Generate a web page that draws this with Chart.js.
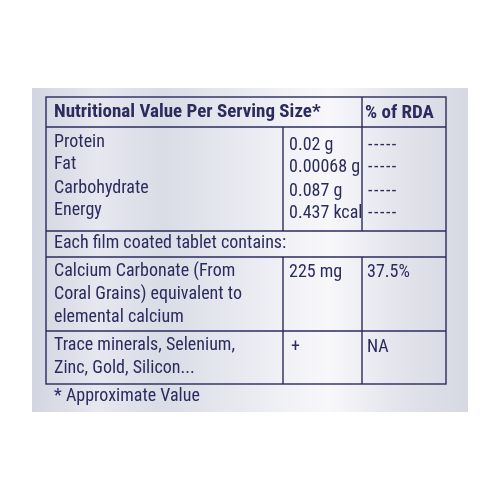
<!DOCTYPE html>
<html><head><meta charset="utf-8">
<script src="https://cdn.jsdelivr.net/npm/chart.js@4"></script>
<style>html,body{margin:0;padding:0;background:#fff}</style>
</head><body>
<canvas id="c" width="500" height="500"></canvas>
<script>
const headers = ["Nutritional Value Per Serving Size*", "% of RDA"];
const nutrients = ["Protein", "Fat", "Carbohydrate", "Energy"];
const amounts = ["0.02 g", "0.00068 g", "0.087 g", "0.437 kcal"];
const rda = ["-----", "-----", "-----", "-----"];
const sectionLabel = "Each film coated tablet contains:";
const calciumLines = ["Calcium Carbonate (From", "Coral Grains) equivalent to", "elemental calcium"];
const calciumAmount = "225 mg";
const calciumRda = "37.5%";
const traceLines = ["Trace minerals, Selenium,", "Zinc, Gold, Silicon..."];
const traceAmount = "+";
const traceRda = "NA";
const footnote = "* Approximate Value";

const INK = "#2b2b5e";
const FONT = '"Liberation Sans Narrow", "Roboto Condensed", "DejaVu Sans Condensed", sans-serif';

const tablePlugin = {
  id: 'table',
  beforeDraw(chart) {
    const ctx = chart.ctx, X = v => chart.scales.x.getPixelForValue(v), Y = v => chart.scales.y.getPixelForValue(v);
    ctx.save();
    ctx.fillStyle = '#fff'; ctx.fillRect(0,0,500,500);
    const g = ctx.createLinearGradient(X(32),0,X(468),0);
    g.addColorStop(0,'#d3d5e0'); g.addColorStop(0.15,'#e6e7ef'); g.addColorStop(0.3,'#dadce6');
    g.addColorStop(0.5,'#eaebf1'); g.addColorStop(0.68,'#f8f8fb'); g.addColorStop(0.85,'#e2e3eb'); g.addColorStop(1,'#d6d8e2');
    ctx.fillStyle = g; ctx.fillRect(X(32),Y(88),X(468)-X(32),Y(412)-Y(88));
    ctx.strokeStyle = INK; ctx.lineWidth = 1.4;
    const L=46,R=446,T=97,B=384,C1=283,C2=362;
    ctx.strokeRect(X(L),Y(T),X(R)-X(L),Y(B)-Y(T));
    const line=(x1,y1,x2,y2)=>{ctx.beginPath();ctx.moveTo(X(x1),Y(y1));ctx.lineTo(X(x2),Y(y2));ctx.stroke();};
    line(L,127,R,127); line(L,231,R,231); line(L,257,R,257); line(L,331,R,331);
    line(C2,T,C2,127); line(C1,127,C1,231); line(C2,127,C2,231);
    line(C1,257,C1,B); line(C2,257,C2,B);
    ctx.fillStyle = INK; ctx.textBaseline = 'middle';
    ctx.font = 'bold 19px ' + FONT;
    ctx.fillText(headers[0], X(54), Y(112)); ctx.fillText(headers[1], X(365), Y(113));
    ctx.font = '18px ' + FONT;
    const ny=[142,164,188,210];
    nutrients.forEach((t,i)=>{
      ctx.fillText(t,X(54),Y(ny[i]));ctx.fillText(amounts[i],X(289),Y(ny[i]+3));
      ctx.letterSpacing='1.5px'; ctx.fillText(rda[i],X(368),Y(ny[i]+3)); ctx.letterSpacing='0px';
    });
    ctx.fillText(sectionLabel,X(54),Y(243));
    calciumLines.forEach((t,i)=>ctx.fillText(t,X(54),Y(271+i*23)));
    ctx.fillText(calciumAmount,X(289),Y(272)); ctx.fillText(calciumRda,X(367),Y(272));
    traceLines.forEach((t,i)=>ctx.fillText(t,X(54),Y(345+i*23)));
    ctx.fillText(traceAmount,X(291),Y(347)); ctx.fillText(traceRda,X(367),Y(347));
    ctx.fillText(footnote,X(54),Y(396));
    ctx.restore();
  }
};

new Chart(document.getElementById('c'), {
  type: 'scatter',
  data: { datasets: [{ data: [] }] },
  options: {
    responsive: false, animation: false,
    layout: { padding: 0 },
    plugins: { legend: { display: false }, tooltip: { enabled: false } },
    scales: {
      x: { type: 'linear', min: 0, max: 500, display: false },
      y: { type: 'linear', min: 0, max: 500, reverse: true, display: false }
    }
  },
  plugins: [tablePlugin]
});
</script>
</body></html>
